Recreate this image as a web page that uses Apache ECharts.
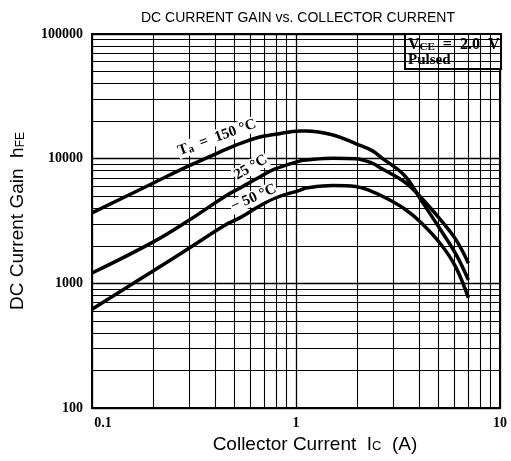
<!DOCTYPE html>
<html>
<head>
<meta charset="utf-8">
<script src="https://cdn.jsdelivr.net/npm/echarts@6/dist/echarts.min.js"></script>
<style>html,body{margin:0;padding:0;background:#fff;}#c{width:511px;height:461px;}</style>
</head>
<body>
<div id="c"></div>
<script>
// ---- data ----
const currentA = [0.1, 0.2, 0.3, 0.45, 0.53, 0.65, 0.78, 1.05, 1.12, 1.52, 1.96, 2.36, 2.64, 3.41, 4.12, 5.14, 6.07, 7.0];
const gain150 = [3670, 6380, 8790, 11800, 13200, 14800, 15600, 16700, 16700, 15500, 13200, 11600, 10100, 7300, 4600, 2650, 1720, 1065];
const gain25  = [1210, 2150, 3220, 5000, 5800, 7000, 8200, 9600, 9770, 10100, 10000, 9200, 8300, 6500, 4840, 3200, 2250, 1450];
const gainM50 = [620, 1260, 1920, 2940, 3350, 4100, 4800, 5600, 5820, 6100, 5990, 5450, 5020, 3950, 3050, 2050, 1350, 764];
const xTickLabels = ['0.1', '1', '10'];
const yTickLabels = ['100', '1000', '10000', '100000'];
const xDecades = [0.1, 1];
const yDecades = [100, 1000, 10000];
const multiples = [2, 3, 4, 5, 6, 7, 8, 9];

function pairs(xs, ys) { return xs.map((x, i) => [x, ys[i]]); }
const minorX = [];
xDecades.forEach(d => multiples.forEach(m => minorX.push(+(d * m).toPrecision(3))));
const minorY = [];
yDecades.forEach(d => multiples.forEach(m => minorY.push(d * m)));

const chart = echarts.init(document.getElementById('c'), null, {renderer: 'canvas'});
const serifBold = {fontFamily: 'Liberation Serif', fontWeight: 'bold', color: '#000'};
const curveStyle = {color: '#000', width: 3.5};

chart.setOption({
  animation: false,
  backgroundColor: '#fff',
  title: {
    text: 'DC CURRENT GAIN vs. COLLECTOR CURRENT',
    left: 293, top: 6, textAlign: 'center',
    textStyle: {fontFamily: 'Liberation Sans', fontSize: 14, fontWeight: 'normal', color: '#000'}
  },
  grid: {left: 85, right: 11, top: 34, bottom: 53, show: true, borderColor: '#000', borderWidth: 2, backgroundColor: 'transparent'},
  xAxis: {
    type: 'log', logBase: 10, min: 0.1, max: 10,
    name: 'Collector Current  I{s|C}  (A)',
    nameLocation: 'middle', nameGap: 13,
    nameTextStyle: {fontFamily: 'Liberation Sans', fontSize: 19, color: '#000', padding: [0, 0, 0, 38],
      rich: {s: {fontFamily: 'Liberation Sans', fontSize: 13, color: '#000', padding: [4, 0, 0, 0]}}},
    axisLine: {show: true, lineStyle: {color: '#000', width: 2}},
    axisTick: {show: false},
    splitLine: {show: true, lineStyle: {color: '#000', width: 1.3}},
    axisLabel: {
      ...serifBold, fontSize: 14, margin: 8,
      formatter: (v, i) => i === 0 ? '{p|' + xTickLabels[i] + '}' : xTickLabels[i],
      rich: {p: {...serifBold, fontSize: 14, padding: [0, 0, 0, 22]}}
    }
  },
  yAxis: {
    type: 'log', logBase: 10, min: 100, max: 100000,
    name: 'DC Current Gain  h{s|FE}',
    nameLocation: 'middle', nameGap: 65, nameRotate: 90,
    nameTextStyle: {fontFamily: 'Liberation Sans', fontSize: 19, color: '#000',
      rich: {s: {fontFamily: 'Liberation Sans', fontSize: 12, color: '#000', padding: [6, 0, 0, 0]}}},
    axisLine: {show: true, lineStyle: {color: '#000', width: 2}},
    axisTick: {show: false},
    splitLine: {show: true, lineStyle: {color: '#000', width: 1.3}},
    axisLabel: {...serifBold, fontSize: 14, margin: 9, formatter: (v, i) => yTickLabels[i]}
  },
  series: [
    {
      name: 'grid', type: 'line', data: [], silent: true,
      markLine: {
        silent: true, symbol: 'none', animation: false,
        label: {show: false},
        lineStyle: {color: '#000', width: 1.1, type: 'solid'},
        data: minorX.map(v => ({xAxis: v})).concat(minorY.map(v => ({yAxis: v})))
      }
    },
    {name: 'Ta=150°C', type: 'line', smooth: 0.4, showSymbol: false, lineStyle: curveStyle, data: pairs(currentA, gain150), z: 5},
    {name: 'Ta=25°C', type: 'line', smooth: 0.4, showSymbol: false, lineStyle: curveStyle, data: pairs(currentA, gain25), z: 5},
    {name: 'Ta=-50°C', type: 'line', smooth: 0.4, showSymbol: false, lineStyle: curveStyle, data: pairs(currentA, gainM50), z: 5}
  ]
});

// curve annotations, anchored in data coordinates
const notes = [
  {text: 'T{s|a}  =  150 °C', at: [0.41, 14800], rot: 20},
  {text: '25 °C', at: [0.60, 8500], rot: 30},
  {text: '− 50 °C', at: [0.62, 4850], rot: 24}
];
const gfx = notes.map(n => {
  const p = chart.convertToPixel({gridIndex: 0}, n.at);
  return {
    type: 'text', x: p[0], y: p[1], rotation: n.rot * Math.PI / 180, z: 10,
    style: {text: n.text, x: 0, y: 0, align: 'center', verticalAlign: 'middle',
      font: 'bold 15px "Liberation Serif"', fill: '#000',
      backgroundColor: '#fff', padding: [0, 1],
      rich: {s: {font: 'bold 11px "Liberation Serif"', fill: '#000', padding: [5, 0, 0, 0]}}}
  };
});
gfx.push({
  type: 'group', left: 404, top: 33, z: 20,
  children: [
    {type: 'rect', shape: {x: 0, y: 0, width: 96, height: 35}, style: {fill: '#fff', stroke: '#000', lineWidth: 2}},
    {type: 'text', x: 3, y: 2, style: {text: 'V{s|CE}  =  2.0  V', font: 'bold 16px "Liberation Serif"', fill: '#000', verticalAlign: 'top',
      rich: {s: {font: 'bold 11px "Liberation Serif"', fill: '#000', padding: [6, 0, 0, 0]}}}},
    {type: 'text', x: 3, y: 19, style: {text: 'Pulsed', font: 'bold 15px "Liberation Serif"', fill: '#000', verticalAlign: 'top'}}
  ]
});
chart.setOption({graphic: gfx});
</script>
</body>
</html>
